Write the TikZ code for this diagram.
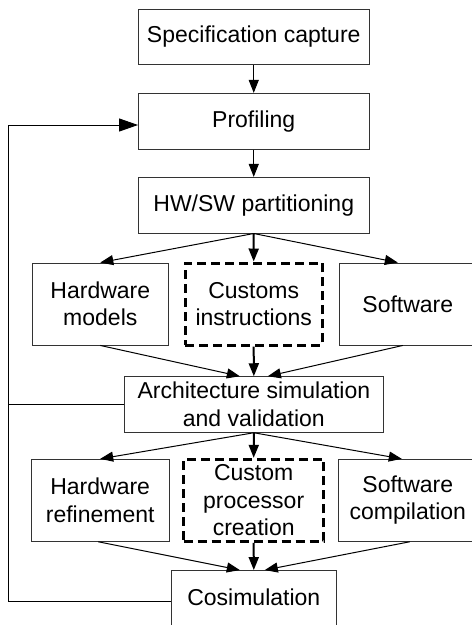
\documentclass[tikz,border=0pt]{standalone}
\usepackage{fontspec}
\setmainfont{Liberation Sans}
\usetikzlibrary{arrows.meta}
\begin{document}
\begin{tikzpicture}[x=1pt,y=-1pt,
  box/.style={draw=black!80,line width=0.9pt,inner sep=0pt,align=center,
    font=\fontsize{23}{27.5}\selectfont},
  dbox/.style={box,draw=black,line width=3pt,dash pattern=on 9pt off 5pt},
  arr/.style={line width=1pt,-{Triangle[length=13pt,width=10pt]}},
  bigarr/.style={line width=1pt,-{Triangle[length=19pt,width=13pt]}},
  ln/.style={line width=1pt}]
\useasboundingbox (0,0) rectangle (472,625);
\clip (0,0) rectangle (472,625);
\node[box,minimum width=230.5pt,minimum height=55.7pt] (spec) at (253.75,36.85) {Specification capture};
\node[box,minimum width=230.5pt,minimum height=55.7pt] (prof) at (253.75,121.2) {Profiling};
\node[box,minimum width=230.5pt,minimum height=55.7pt] (hwsw) at (253.75,205.2) {HW/SW partitioning};
\node[box,minimum width=136pt,minimum height=82pt] (hwm) at (100.3,304) {Hardware\\models};
\node[dbox,minimum width=137.3pt,minimum height=82pt] (ci) at (253.7,304) {Customs\\instructions};
\node[box,minimum width=137pt,minimum height=82pt] (sw) at (407.8,304) {Software};
\node[box,minimum width=259.7pt,minimum height=55.6pt] (arch) at (253.85,404.5) {Architecture simulation\\and validation};
\node[box,minimum width=138.3pt,minimum height=82pt] (hwr) at (100.2,500.3) {Hardware\\refinement};
\node[dbox,minimum width=140pt,minimum height=82pt] (cpc) at (253.7,500.3) {Custom\\processor\\creation};
\node[box,minimum width=139pt,minimum height=82pt] (swc) at (407.8,500.3) {Software\\compilation};
\node[box,minimum width=165pt,minimum height=56pt] (cos) at (253.8,598.5) {\raisebox{2pt}{Cosimulation}};
% vertical flow
\draw[arr] (spec.south) -- (prof.north);
\draw[arr] (prof.south) -- (hwsw.north);
\draw[arr] (hwsw.south) -- (hwm.north);
\draw[arr,line width=2pt] (hwsw.south) -- (ci.north);
\draw[arr] (hwsw.south) -- ([xshift=-10pt]sw.north);
\draw[arr] (hwm.south) -- ([xshift=-14pt]arch.north);
\draw[arr,line width=2pt] (ci.south) -- (arch.north);
\draw[arr] ([xshift=-5pt]sw.south) -- ([xshift=14pt]arch.north);
\draw[arr] (arch.south) -- (hwr.north);
\draw[arr,line width=2pt] (arch.south) -- (cpc.north);
\draw[arr] (arch.south) -- ([xshift=-6pt]swc.north);
\draw[arr] ([xshift=-2pt]hwr.south) -- ([xshift=-14pt]cos.north);
\draw[arr,line width=2pt] (cpc.south) -- (cos.north);
\draw[arr] ([xshift=2pt]swc.south) -- ([xshift=11pt]cos.north);
% feedback
\coordinate (fb) at (8.3,125);
\draw[bigarr] ([yshift=-2.5pt]cos.west) -| (fb) -- (fb -| prof.west);
\draw[ln] (arch.west) -- (arch.west -| fb);
\end{tikzpicture}
\end{document}
